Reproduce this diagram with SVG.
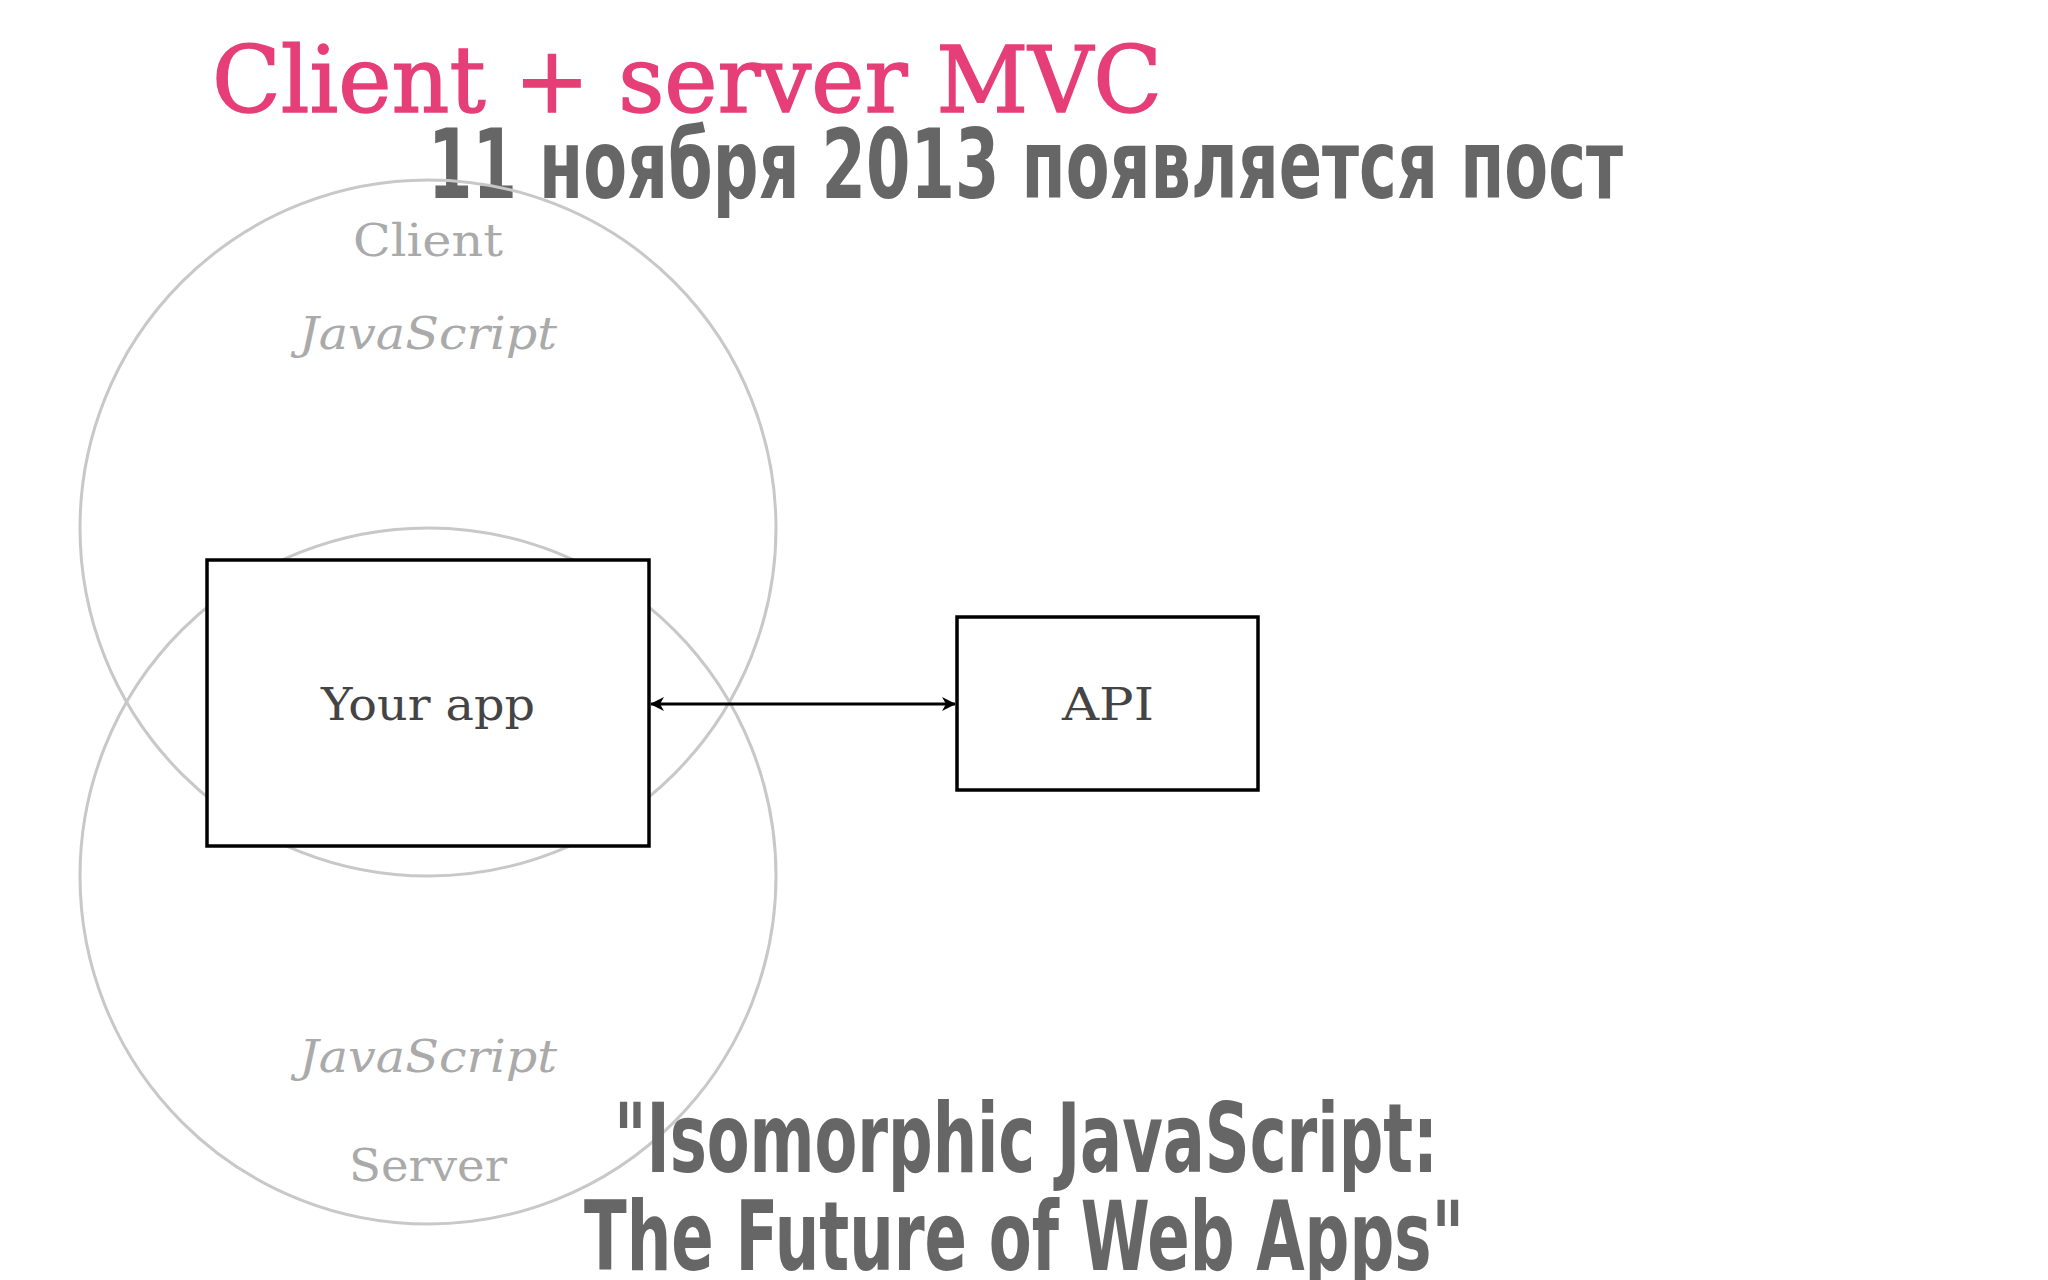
<svg xmlns="http://www.w3.org/2000/svg" width="2048" height="1280" viewBox="0 0 2048 1280">
<defs>
<style>
.slab{font-family:"DejaVu Serif","Liberation Serif",serif}
.head{font-family:"DejaVu Sans","Liberation Sans",sans-serif;font-weight:bold;font-stretch:condensed;fill:#666666;font-size:96px}
.ring{fill:none;stroke:#c8c8c8;stroke-width:3}
.box{fill:#ffffff;stroke:#000000;stroke-width:3.5}
.lbl{fill:#444444;font-size:44px;text-anchor:middle}
.grey{fill:#aaaaaa;font-size:44px;text-anchor:middle}
</style>
<marker id="ah" viewBox="0 0 14 14" refX="13" refY="7" markerWidth="14" markerHeight="14" markerUnits="userSpaceOnUse" orient="auto-start-reverse">
<path d="M0,0 L14,7 L0,14 L4,7 Z" fill="#000000"/>
</marker>
</defs>
<rect width="2048" height="1280" fill="#ffffff"/>
<text class="slab" x="212" y="112" font-size="92" fill="#e63e76" stroke="#e63e76" stroke-width="1.5" textLength="950" lengthAdjust="spacingAndGlyphs">Client + server MVC</text>
<text class="head" x="428" y="198" textLength="1195" lengthAdjust="spacingAndGlyphs">11 ноября 2013 появляется пост</text>
<g id="client">
<circle class="ring" cx="428" cy="528" r="348"/>
<text class="slab grey" x="428" y="256" textLength="150" lengthAdjust="spacingAndGlyphs">Client</text>
<text class="slab grey" x="428" y="349" font-style="italic" textLength="258" lengthAdjust="spacingAndGlyphs">JavaScript</text>
</g>
<g id="server">
<circle class="ring" cx="428" cy="876" r="348"/>
<text class="slab grey" x="428" y="1072" font-style="italic" textLength="258" lengthAdjust="spacingAndGlyphs">JavaScript</text>
<text class="slab grey" x="428" y="1181" textLength="158" lengthAdjust="spacingAndGlyphs">Server</text>
</g>
<g id="connectors">
<line x1="651" y1="704" x2="955" y2="704" stroke="#000000" stroke-width="3" marker-start="url(#ah)" marker-end="url(#ah)"/>
</g>
<g id="yourapp">
<rect class="box" x="207" y="560" width="442" height="286"/>
<text class="slab lbl" x="428" y="720" textLength="214" lengthAdjust="spacingAndGlyphs">Your app</text>
</g>
<g id="api">
<rect class="box" x="957" y="617" width="301" height="173"/>
<text class="slab lbl" x="1108" y="720" textLength="92" lengthAdjust="spacingAndGlyphs">API</text>
</g>
<text class="head" x="614" y="1172" textLength="824" lengthAdjust="spacingAndGlyphs">"Isomorphic JavaScript:</text>
<text class="head" x="584" y="1270" textLength="880" lengthAdjust="spacingAndGlyphs">The Future of Web Apps"</text>
</svg>
